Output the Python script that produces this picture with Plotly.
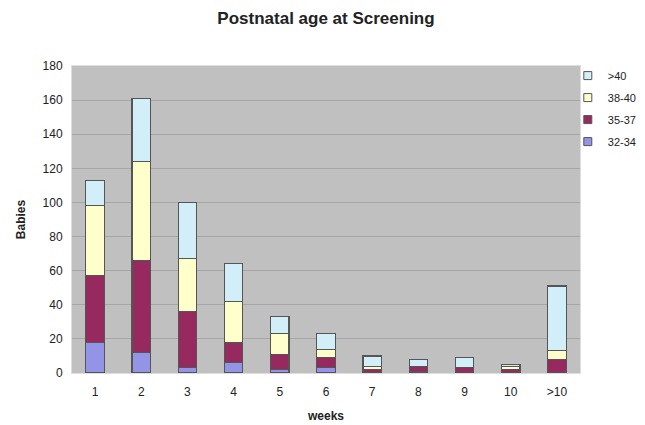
import plotly.graph_objects as go

categories = ["1", "2", "3", "4", "5", "6", "7", "8", "9", "10", ">10"]
g32_34 = [18, 12, 3, 6, 2, 3, 0, 1, 0, 0, 0]
g35_37 = [39, 54, 33, 12, 9, 6, 2, 3, 3, 2, 8]
g38_40 = [41, 58, 31, 24, 12, 5, 2, 0, 0, 2, 5]
g_gt40 = [15, 37, 33, 22, 10, 9, 6, 4, 6, 1, 38]

series = [
    ("32-34", g32_34, "#9494E6"),
    ("35-37", g35_37, "#962A5E"),
    ("38-40", g38_40, "#FFFFCC"),
    (">40", g_gt40, "#D2EEF8"),
]

fig = go.Figure()
for name, vals, col in series:
    fig.add_trace(go.Bar(
        x=categories, y=vals, name=name, showlegend=False,
        marker=dict(color=col, line=dict(color="#555555", width=1.2)),
    ))
# legend entries with small square swatches (top-to-bottom: >40 ... 32-34)
for name, vals, col in reversed(series):
    fig.add_trace(go.Scatter(
        x=[None], y=[None], mode="markers", name=name, legendgroup=name,
        marker=dict(symbol="square", size=8, color=col,
                    line=dict(color="#555555", width=1)),
    ))

font = "Liberation Sans, Arial, sans-serif"
fig.update_layout(
    width=637, height=417,
    barmode="stack", bargap=0.6,
    paper_bgcolor="white", plot_bgcolor="#C0C0C0",
    margin=dict(l=64, r=65, t=58, b=52, autoexpand=False),
    font=dict(family=font, size=12, color="#222222"),
    title=dict(text="<b>Postnatal age at Screening</b>", x=0.5, xanchor="center",
               xref="paper", y=0.976, yanchor="middle", font=dict(size=17)),
    showlegend=True,
    legend=dict(traceorder="grouped", x=0.976, xanchor="left", y=1.016, yanchor="top",
                font=dict(size=11), itemwidth=30, tracegroupgap=3,
                bgcolor="rgba(0,0,0,0)"),
    xaxis=dict(title=dict(text="<b>weeks</b>", standoff=13, font=dict(size=12)),
               type="category", showgrid=False, ticks="", showline=True,
               linecolor="#DDDDDD", mirror=True, ticklabelstandoff=8),
    yaxis=dict(title=dict(text="<b>Babies</b>", standoff=14, font=dict(size=12)),
               range=[0, 180], dtick=20, showgrid=True, gridcolor="#A6A6A6",
               gridwidth=1, zeroline=False, showline=True, linecolor="#DDDDDD",
               mirror=True, ticks="", ticklabelstandoff=6),
)

fig.write_html("out.html")
